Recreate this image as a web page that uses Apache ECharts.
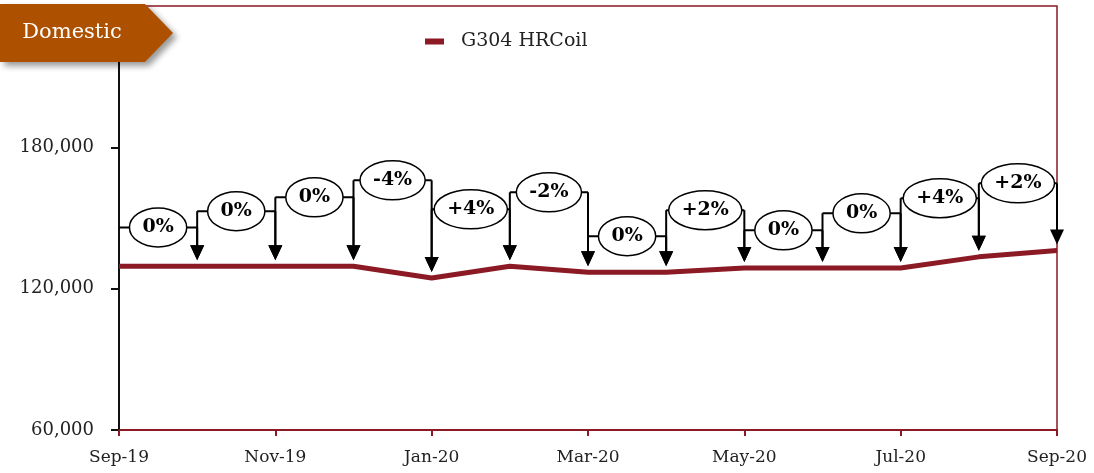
<!DOCTYPE html>
<html>
<head>
<meta charset="utf-8">
<script src="https://cdn.jsdelivr.net/npm/echarts@6/dist/echarts.min.js"></script>
<style>
  html, body { margin: 0; padding: 0; background: #fff; }
  #container { width: 1094px; height: 473px; }
</style>
</head>
<body>
<div id="container"></div>
<script>
// data
var months = ['Sep-19','Oct-19','Nov-19','Dec-19','Jan-20','Feb-20','Mar-20','Apr-20','May-20','Jun-20','Jul-20','Aug-20','Sep-20'];
var prices = [129500,129500,129500,129500,124500,129500,127000,127000,128800,128800,128800,133500,136200];
var changes = ['0%','0%','0%','-4%','+4%','-2%','0%','+2%','0%','0%','+4%','+2%'];
// height of each callout bracket, in axis units
var calloutLevel = [146000,152900,158800,166000,153700,160900,142300,153300,144800,152000,158400,164700];
var yMin = 60000, yMax = 240000, yStep = 60000;

var serif = 'DejaVu Serif';
var red = '#8B1A24';
var pctFont = 'bold 19px "' + serif + '"';

// text measure for the ellipse size
var ctx = document.createElement('canvas').getContext('2d');
ctx.font = pctFont;

var callouts = [];
for (var i = 0; i < changes.length; i++) {
  callouts.push([i, calloutLevel[i], prices[i], prices[i + 1]]);
}

function arrow(x, y0, tipY) {
  return [
    { type: 'line', shape: { x1: x, y1: y0, x2: x, y2: tipY - 12 },
      style: { stroke: '#000', lineWidth: 2 } },
    { type: 'polygon', shape: { points: [[x - 7, tipY - 15], [x + 7, tipY - 15], [x, tipY]] },
      style: { fill: '#000' } }
  ];
}

function renderCallout(params, api) {
  var i = api.value(0);
  var lvl = api.value(1);
  var pL = api.coord([i, lvl]);
  var pR = api.coord([i + 1, lvl]);
  var tipA = api.coord([i, api.value(2)]);
  var tipB = api.coord([i + 1, api.value(3)]);
  var label = changes[i];
  var w = ctx.measureText(label).width;
  var rx = w / 2 + 13, ry = 19.5;
  var cx = (pL[0] + pR[0]) / 2, cy = pL[1];
  var kids = [
    { type: 'line', shape: { x1: pL[0], y1: cy, x2: pR[0], y2: cy },
      style: { stroke: '#000', lineWidth: 2 } }
  ];
  kids = kids.concat(arrow(pR[0], cy, tipB[1] - 6));
  if (i > 0) kids = kids.concat(arrow(pL[0], cy, tipA[1] - 6));
  kids.push({
    type: 'path',
    shape: { pathData: 'M' + (cx - rx) + ' ' + cy + ' A' + rx + ' ' + ry + ' 0 1 0 ' + (cx + rx) + ' ' + cy +
                       ' A' + rx + ' ' + ry + ' 0 1 0 ' + (cx - rx) + ' ' + cy + ' Z' },
    style: { fill: '#fff', stroke: '#000', lineWidth: 1.5 }
  });
  kids.push({
    type: 'text', x: cx, y: cy,
    style: { text: label, fill: '#000', font: pctFont,
             textAlign: 'center', textVerticalAlign: 'middle' }
  });
  return { type: 'group', children: kids };
}

var myChart = echarts.init(document.getElementById('container'));
var option = {
  animation: false,
  grid: {
    left: 119, right: 37, top: 6, bottom: 43,
    show: true, borderColor: red, borderWidth: 1.5
  },
  legend: {
    left: 420, top: 27,
    icon: 'rect', itemWidth: 19, itemHeight: 6,
    textStyle: { fontFamily: serif, fontSize: 19, color: '#222', padding: [0, 0, 0, 12] },
    data: ['G304 HRCoil']
  },
  xAxis: {
    type: 'category',
    data: months,
    boundaryGap: false,
    axisLine: { lineStyle: { color: red, width: 2 } },
    axisTick: { interval: 1, length: 6, lineStyle: { color: red, width: 2 } },
    axisLabel: { interval: 1, margin: 19, color: '#222', fontFamily: serif, fontSize: 17 }
  },
  yAxis: {
    type: 'value',
    min: yMin, max: yMax, interval: yStep,
    splitLine: { show: false },
    axisLine: { show: true, lineStyle: { color: '#111', width: 2 } },
    axisTick: { show: true, length: 8, lineStyle: { color: '#111', width: 2 } },
    axisLabel: { showMaxLabel: false, margin: 25, color: '#222', fontFamily: serif, fontSize: 18 }
  },
  graphic: [
    {
      type: 'polygon', z: 100,
      shape: { points: [[0, 4], [145, 4], [173, 33], [145, 62], [0, 62]] },
      style: { fill: '#AD5100', shadowBlur: 6, shadowOffsetX: 4, shadowOffsetY: 4, shadowColor: 'rgba(0,0,0,0.4)' }
    },
    {
      type: 'text', z: 101, x: 72, y: 33,
      style: { text: 'Domestic', fill: '#fff', font: '21px "' + serif + '"',
               textAlign: 'center', textVerticalAlign: 'middle' }
    }
  ],
  series: [
    {
      name: 'G304 HRCoil',
      type: 'line',
      data: prices,
      symbol: 'none',
      color: red,
      lineStyle: { width: 5, color: red },
      z: 3
    },
    {
      type: 'custom',
      data: callouts,
      renderItem: renderCallout,
      silent: true,
      clip: false,
      z: 5
    }
  ]
};
myChart.setOption(option);
</script>
</body>
</html>
